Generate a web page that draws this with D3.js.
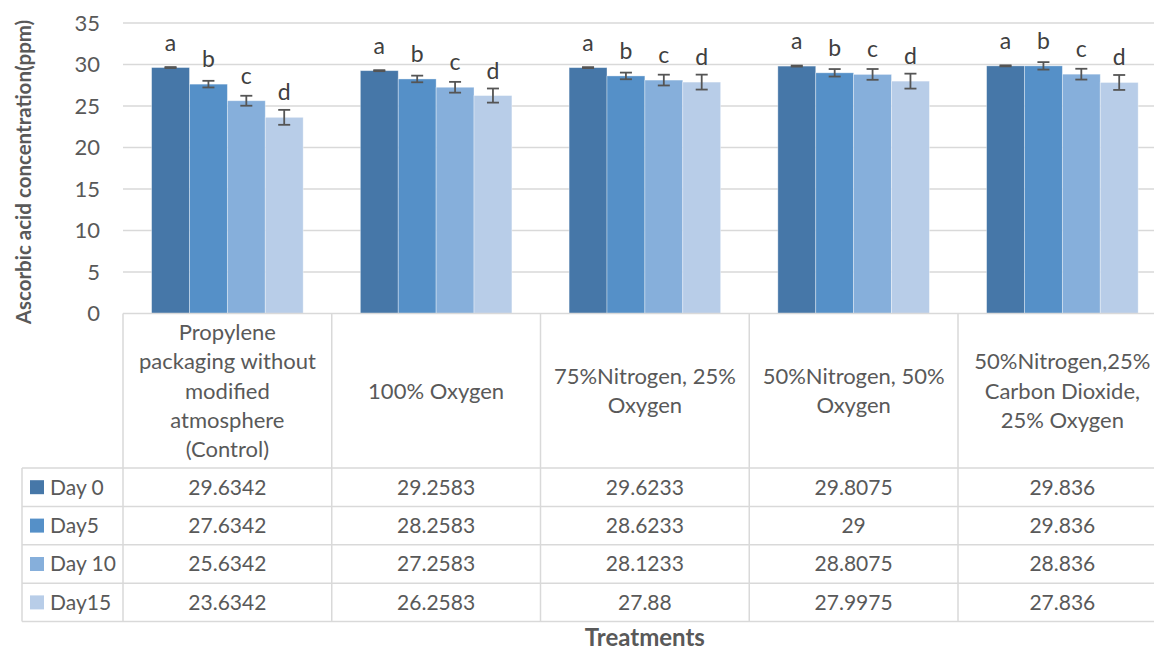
<!DOCTYPE html>
<html>
<head>
<meta charset="utf-8">
<script src="https://cdn.jsdelivr.net/npm/d3@7"></script>
<style>
  html, body { margin: 0; padding: 0; background: #fff; }
  svg { display: block; font-family: Lato, "Open Sans", sans-serif; }
</style>
</head>
<body>
<svg id="chart" width="1154" height="652"></svg>
<script>
// Treatments (category axis), each label split into its wrapped lines
const treatments = [
  ["Propylene", "packaging without", "modified", "atmosphere", "(Control)"],
  ["100% Oxygen"],
  ["75%Nitrogen, 25%", "Oxygen"],
  ["50%Nitrogen, 50%", "Oxygen"],
  ["50%Nitrogen,25%", "Carbon Dioxide,", "25% Oxygen"]
];

// Storage days (series)
const days = ["Day 0", "Day5", "Day 10", "Day15"];
const dayColors = ["#4677a8", "#5590c8", "#86afdb", "#b8cde8"];

// Ascorbic acid concentration (ppm), one array per day, in treatment order
const day0  = [29.6342, 29.2583, 29.6233, 29.8075, 29.836];
const day5  = [27.6342, 28.2583, 28.6233, 29,      29.836];
const day10 = [25.6342, 27.2583, 28.1233, 28.8075, 28.836];
const day15 = [23.6342, 26.2583, 27.88,   27.9975, 27.836];

// Text shown in the data table (as printed)
const tableText = [
  ["29.6342", "29.2583", "29.6233", "29.8075", "29.836"],
  ["27.6342", "28.2583", "28.6233", "29",      "29.836"],
  ["25.6342", "27.2583", "28.1233", "28.8075", "28.836"],
  ["23.6342", "26.2583", "27.88",   "27.9975", "27.836"]
];

// Standard error (+/-) per day and treatment
const err0  = [0.06, 0.06, 0.06, 0.06, 0.06];
const err5  = [0.40, 0.40, 0.40, 0.45, 0.45];
const err10 = [0.60, 0.65, 0.65, 0.65, 0.65];
const err15 = [0.90, 0.85, 0.90, 0.90, 0.90];

// Significance letters per day
const letters = ["a", "b", "c", "d"];

const yTicks = [0, 5, 10, 15, 20, 25, 30, 35];

const seriesValues = [day0, day5, day10, day15];
const seriesErrors = [err0, err5, err10, err15];

const svg = d3.select("#chart");
const W = 1154;

const plotLeft = 123, plotTop = 23, plotBottom = 313.5;
const nCat = treatments.length;
const cellW = 208.75;
const pIn = 0.274, pOut = pIn / 2;

const x = d3.scaleBand()
  .domain(d3.range(nCat))
  .range([plotLeft, plotLeft + cellW * nCat])
  .paddingInner(pIn)
  .paddingOuter(pOut);

const xs = d3.scaleBand()
  .domain(d3.range(days.length))
  .range([0, x.bandwidth()]);

const y = d3.scaleLinear().domain([0, 35]).range([plotBottom, plotTop]);

const gridColor = "#d9d9d9";
const textColor = "#595959";

// Horizontal gridlines
svg.append("g")
  .selectAll("line")
  .data(yTicks.filter(t => t > 0))
  .join("line")
  .attr("x1", plotLeft).attr("x2", W)
  .attr("y1", d => y(d)).attr("y2", d => y(d))
  .attr("stroke", gridColor).attr("stroke-width", 1.3);

// Y axis labels
const yAxis = d3.axisLeft(y).tickValues(yTicks).tickSize(0).tickPadding(23);
const yg = svg.append("g").attr("transform", `translate(${plotLeft},0)`).call(yAxis);
yg.select(".domain").remove();
yg.selectAll("text")
  .attr("fill", textColor)
  .style("font-size", "22px")
  .style("font-family", "Lato, 'Open Sans', sans-serif");

// Bars
const groups = svg.append("g")
  .selectAll("g")
  .data(d3.range(nCat))
  .join("g")
  .attr("transform", i => `translate(${x(i)},0)`);

const cellData = i => days.map((d, k) => ({
  k, v: seriesValues[k][i], e: seriesErrors[k][i]
}));

groups.selectAll("rect")
  .data(cellData)
  .join("rect")
  .attr("x", d => xs(d.k))
  .attr("width", xs.bandwidth())
  .attr("y", d => y(d.v))
  .attr("height", d => y(0) - y(d.v))
  .attr("fill", d => dayColors[d.k])
  .attr("stroke", "rgba(255,255,255,0.45)")
  .attr("stroke-width", 0.8);

// Error bars
const errColor = "#555555";
const capHalf = 6;
const eb = groups.selectAll("g.err")
  .data(cellData)
  .join("g")
  .attr("class", "err")
  .attr("transform", d => `translate(${xs(d.k) + xs.bandwidth() / 2},0)`);
eb.append("line")
  .attr("y1", d => y(d.v + d.e)).attr("y2", d => y(d.v - d.e))
  .attr("stroke", errColor).attr("stroke-width", 1.8);
eb.append("line")
  .attr("x1", -capHalf).attr("x2", capHalf)
  .attr("y1", d => y(d.v + d.e)).attr("y2", d => y(d.v + d.e))
  .attr("stroke", errColor).attr("stroke-width", 1.8);
eb.append("line")
  .attr("x1", -capHalf).attr("x2", capHalf)
  .attr("y1", d => y(d.v - d.e)).attr("y2", d => y(d.v - d.e))
  .attr("stroke", errColor).attr("stroke-width", 1.8);

// Significance letters
groups.selectAll("text.sig")
  .data(cellData)
  .join("text")
  .attr("class", "sig")
  .attr("x", d => xs(d.k) + xs.bandwidth() / 2)
  .attr("y", d => y(d.v) - 17)
  .attr("text-anchor", "middle")
  .attr("fill", "#404040")
  .style("font-size", "23px")
  .text(d => letters[d.k]);

// Data table
const tableTop = plotBottom;
const headerBottom = 468;
const rowH = 38.4;
const tableBottom = headerBottom + rowH * days.length;
const legendLeft = 22;
const cellLeft = i => x(i) - x.step() * pOut;

const tg = svg.append("g");

// Horizontal table lines
tg.append("line")
  .attr("x1", plotLeft).attr("x2", W)
  .attr("y1", tableTop).attr("y2", tableTop)
  .attr("stroke", gridColor).attr("stroke-width", 1.5);
tg.selectAll("line.h")
  .data(d3.range(days.length + 1))
  .join("line")
  .attr("class", "h")
  .attr("x1", legendLeft).attr("x2", W)
  .attr("y1", r => headerBottom + r * rowH).attr("y2", r => headerBottom + r * rowH)
  .attr("stroke", gridColor).attr("stroke-width", 1.5);

// Vertical table lines
tg.selectAll("line.v")
  .data(d3.range(nCat + 1))
  .join("line")
  .attr("class", "v")
  .attr("x1", i => cellLeft(0) + i * x.step()).attr("x2", i => cellLeft(0) + i * x.step())
  .attr("y1", tableTop).attr("y2", tableBottom)
  .attr("stroke", gridColor).attr("stroke-width", 1.5);
tg.append("line")
  .attr("x1", legendLeft).attr("x2", legendLeft)
  .attr("y1", headerBottom).attr("y2", tableBottom)
  .attr("stroke", gridColor).attr("stroke-width", 1.5);

// Category labels (wrapped)
const lineH = 29.3;
const headerMid = 391;
tg.selectAll("text.cat")
  .data(treatments)
  .join("text")
  .attr("class", "cat")
  .attr("text-anchor", "middle")
  .attr("fill", textColor)
  .style("font-size", "22px")
  .each(function (lines, i) {
    const cx = x(i) + x.bandwidth() / 2;
    const y0 = headerMid - (lines.length - 1) * lineH / 2;
    d3.select(this).selectAll("tspan")
      .data(lines)
      .join("tspan")
      .attr("x", cx)
      .attr("y", (l, j) => y0 + j * lineH)
      .attr("dy", "0.35em")
      .text(l => l);
  });

// Legend keys and series names
const legendRows = tg.selectAll("g.leg")
  .data(days)
  .join("g")
  .attr("class", "leg")
  .attr("transform", (d, k) => `translate(0,${headerBottom + k * rowH + rowH / 2})`);
legendRows.append("rect")
  .attr("x", 30).attr("y", -7).attr("width", 14).attr("height", 14)
  .attr("fill", (d, k) => dayColors[k]);
legendRows.append("text")
  .attr("x", 50).attr("dy", "0.35em")
  .attr("fill", textColor)
  .style("font-size", "21px")
  .text(d => d);

// Values in the table
tableText.forEach((row, k) => {
  tg.append("g").selectAll("text")
    .data(row)
    .join("text")
    .attr("x", (t, i) => x(i) + x.bandwidth() / 2)
    .attr("y", headerBottom + k * rowH + rowH / 2)
    .attr("dy", "0.35em")
    .attr("text-anchor", "middle")
    .attr("fill", textColor)
    .style("font-size", "21px")
    .text(t => t);
});

// Axis titles
svg.append("text")
  .attr("x", plotLeft + cellW * nCat / 2)
  .attr("y", 646)
  .attr("text-anchor", "middle")
  .attr("fill", textColor)
  .style("font-size", "24px")
  .style("font-weight", "bold")
  .text("Treatments");

svg.append("text")
  .attr("transform", "translate(31,172) rotate(-90)")
  .attr("text-anchor", "middle")
  .attr("fill", textColor)
  .style("font-size", "20.5px")
  .style("font-weight", "bold")
  .text("Ascorbic acid concentration(ppm)");
</script>
</body>
</html>
